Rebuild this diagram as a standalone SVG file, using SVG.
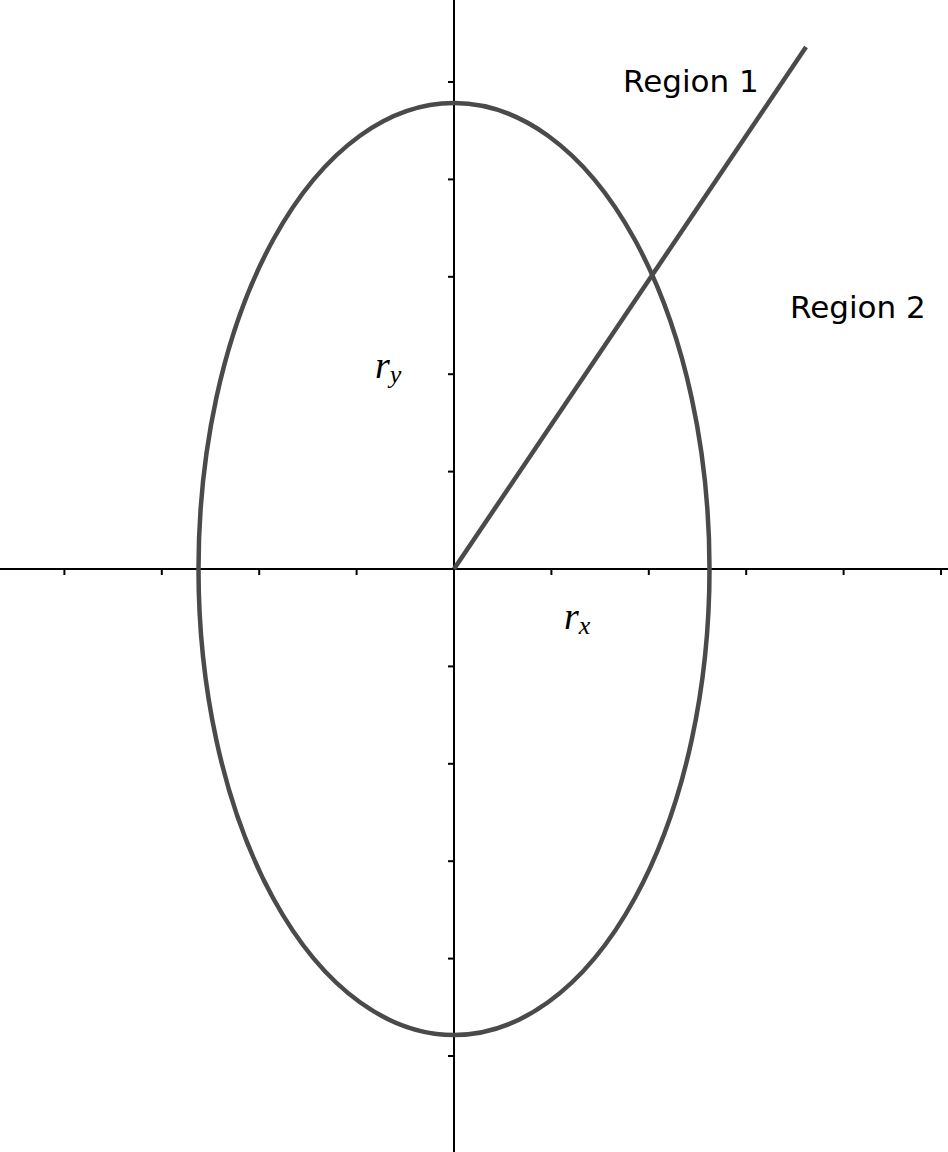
<svg xmlns="http://www.w3.org/2000/svg" width="948" height="1152" viewBox="0 0 948 1152">
<style>
.axis{stroke:#000;stroke-width:2;fill:none}
.tick{stroke:#000;stroke-width:2}
.curve{stroke:#4a4a4a;stroke-width:4.5;fill:none}
.lbl{font-family:"DejaVu Sans",sans-serif;font-size:31px;fill:#000}
.math{font-family:"Liberation Serif",serif;font-style:italic;font-size:38px;fill:#000}
.sub{font-size:26px}
</style>
<rect width="948" height="1152" fill="#fff"/>
<g id="axes">
<line class="axis" x1="0" y1="569" x2="948" y2="569"/>
<line class="axis" x1="454" y1="0" x2="454" y2="1152"/>
<g id="xticks">
<line class="tick" x1="64.4" y1="569" x2="64.4" y2="575"/>
<line class="tick" x1="161.8" y1="569" x2="161.8" y2="575"/>
<line class="tick" x1="259.2" y1="569" x2="259.2" y2="575"/>
<line class="tick" x1="356.6" y1="569" x2="356.6" y2="575"/>
<line class="tick" x1="551.4" y1="569" x2="551.4" y2="575"/>
<line class="tick" x1="648.8" y1="569" x2="648.8" y2="575"/>
<line class="tick" x1="746.2" y1="569" x2="746.2" y2="575"/>
<line class="tick" x1="843.6" y1="569" x2="843.6" y2="575"/>
<line class="tick" x1="941" y1="569" x2="941" y2="575"/>
</g>
<g id="yticks">
<line class="tick" x1="448" y1="82" x2="454" y2="82"/>
<line class="tick" x1="448" y1="179.4" x2="454" y2="179.4"/>
<line class="tick" x1="448" y1="276.8" x2="454" y2="276.8"/>
<line class="tick" x1="448" y1="374.2" x2="454" y2="374.2"/>
<line class="tick" x1="448" y1="471.6" x2="454" y2="471.6"/>
<line class="tick" x1="448" y1="666.4" x2="454" y2="666.4"/>
<line class="tick" x1="448" y1="763.8" x2="454" y2="763.8"/>
<line class="tick" x1="448" y1="861.2" x2="454" y2="861.2"/>
<line class="tick" x1="448" y1="958.6" x2="454" y2="958.6"/>
<line class="tick" x1="448" y1="1056" x2="454" y2="1056"/>
</g>
</g>
<g id="ellipse">
<ellipse class="curve" cx="454" cy="569" rx="255.5" ry="466"/>
</g>
<g id="connectors">
<line class="curve" x1="454" y1="569" x2="806" y2="47"/>
</g>
<g id="labels">
<text class="lbl" x="623" y="92">Region 1</text>
<text class="lbl" x="790" y="318">Region 2</text>
<text class="math" x="375" y="378">r<tspan class="sub" dy="5">y</tspan></text>
<text class="math" x="564" y="629">r<tspan class="sub" dy="5">x</tspan></text>
</g>
</svg>
